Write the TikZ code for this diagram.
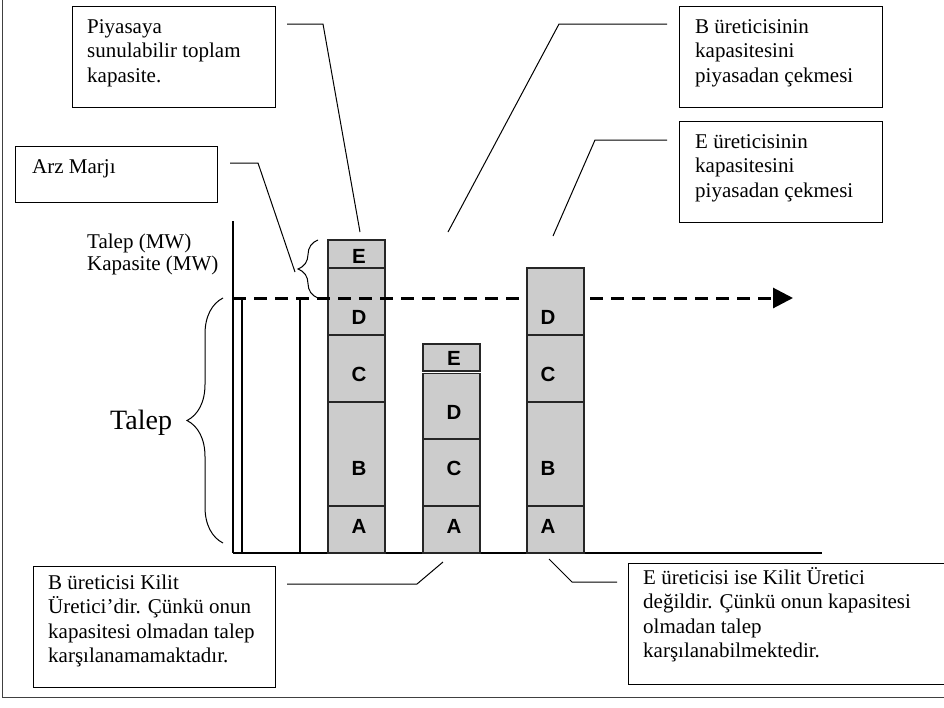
\documentclass[tikz,border=0pt]{standalone}
\usepackage{fontspec}
\setmainfont{Liberation Serif}
\newfontfamily\barfont{Liberation Sans Bold}
\usetikzlibrary{arrows.meta,decorations.pathreplacing}
\begin{document}
\begin{tikzpicture}[x=1pt,y=-1pt,
  box/.style={draw, line width=1.3pt, anchor=north west, inner sep=0pt},
  txt/.style={anchor=north west, inner sep=0pt, align=left, font=\fontsize{21}{24.5}\selectfont},
  seg/.style={draw=black!85, line width=1.4pt, fill=black!20, minimum width=57pt, inner sep=0pt},
  lettr/.style={font=\barfont\fontsize{20.5}{20.5}\selectfont, inner sep=0pt},
  lead/.style={line width=1pt},
  brc/.style={decorate, line width=1pt},
]
\useasboundingbox (0,0) rectangle (944,707);
% frame
\draw[line width=1pt, black!75] (2,0) -- (2,697) -- (944,697);

% axes
\coordinate (axt) at (233,221);
\coordinate (ax0) at (233,553);
\coordinate (axr) at (822,553);
\draw[line width=1.3pt] (axt) -- (ax0);
\draw[line width=1.5pt] (ax0) -- (axr);
% demand column
\coordinate (dl0) at (242,553);
\coordinate (dl1) at (242,298);
\coordinate (dr0) at (300,553);
\coordinate (dr1) at (300,298);
\draw[line width=1.2pt] (dl0) -- (dl1);
\draw[line width=1.2pt] (dr0) -- (dr1);

% bar 1
\node[seg, minimum height=28pt]  (b1e) at (356.5,254) {};
\node[seg, minimum height=67pt]  (b1d) at (356.5,301.5) {};
\node[seg, minimum height=67pt]  (b1c) at (356.5,368.5) {};
\node[seg, minimum height=104pt] (b1b) at (356.5,454) {};
\node[seg, minimum height=47pt]  (b1a) at (356.5,529.5) {};
% bar 2
\node[seg, minimum height=27pt]   (b2e) at (451.5,357.5) {};
\node[seg, minimum height=65.5pt] (b2d) at (451.5,406.25) {};
\node[seg, minimum height=67pt]   (b2c) at (451.5,472.5) {};
\node[seg, minimum height=47pt]   (b2a) at (451.5,529.5) {};

% dashed demand line
\coordinate (dst) at (233,298);
\coordinate (dend) at (793,298);
\draw[line width=3pt, dash pattern=on 13pt off 8pt, -{Triangle[length=20pt,width=20pt]}] (dst) -- (dend);

% bar 3
\node[seg, minimum height=67pt]  (b3d) at (555.5,301.5) {};
\node[seg, minimum height=67pt]  (b3c) at (555.5,368.5) {};
\node[seg, minimum height=104pt] (b3b) at (555.5,454) {};
\node[seg, minimum height=47pt]  (b3a) at (555.5,529.5) {};

% letters
\node[lettr] (l1e) at (359,256) {E};
\node[lettr] (l1d) at (359,317) {D};
\node[lettr] (l1c) at (359,374) {C};
\node[lettr] (l1b) at (359,468) {B};
\node[lettr] (l1a) at (359,526) {A};
\node[lettr] (l2e) at (454,358) {E};
\node[lettr] (l2d) at (454,412) {D};
\node[lettr] (l2c) at (454,468) {C};
\node[lettr] (l2a) at (454,526) {A};
\node[lettr] (l3d) at (548,317) {D};
\node[lettr] (l3c) at (548,374) {C};
\node[lettr] (l3b) at (548,468) {B};
\node[lettr] (l3a) at (548,526) {A};

% braces
\coordinate (bb0) at (223,543);
\coordinate (bb1) at (223,298);
\draw[brc, decoration={brace, amplitude=36pt}] (bb0) -- (bb1);
\coordinate (sb0) at (318,298);
\coordinate (sb1) at (318,240);
\draw[brc, decoration={brace, amplitude=20pt}] (sb0) -- (sb1);

% axis labels
\node[anchor=north west, inner sep=0pt, align=left, font=\fontsize{21}{22}\selectfont] (ylab) at (87,232.6) {\strut Talep (MW)\\Kapasite (MW)};
\node[anchor=base west, inner sep=0pt, font=\fontsize{28}{32}\selectfont] (talep) at (110,429) {Talep};

% boxes
\node[box, minimum width=203pt, minimum height=101pt] (pbox) at (72,6) {};
\node[txt] (ptxt) at (87,15.85) {\strut Piyasaya\\sunulabilir toplam\\kapasite.};
\node[box, minimum width=202pt, minimum height=56pt] (abox) at (15,146) {};
\node[txt] (atxt) at (32,155.85) {\strut Arz Marjı};
\node[box, minimum width=203pt, minimum height=101pt] (btop) at (679,6) {};
\node[txt] (btxt) at (695,15.85) {\strut B üreticisinin\\kapasitesini\\piyasadan çekmesi};
\node[box, minimum width=203pt, minimum height=101pt] (etop) at (679,121) {};
\node[txt] (etxt) at (695,130.85) {\strut E üreticisinin\\kapasitesini\\piyasadan çekmesi};
\node[box, minimum width=242pt, minimum height=121pt] (bbot) at (33,566) {};
\node[txt] (bbtxt) at (48,571.85) {\strut B üreticisi Kilit\\Üretici’dir. Çünkü onun\\kapasitesi olmadan talep\\karşılanamamaktadır.};
\node[box, minimum width=330pt, minimum height=121pt] (ebot) at (628,563) {};
\node[txt] (ebtxt) at (643,566.85) {\strut E üreticisi ise Kilit Üretici\\değildir. Çünkü onun kapasitesi\\olmadan talep\\karşılanabilmektedir.};

% leaders
\coordinate (pl0) at (287,24);  \coordinate (pl1) at (323,24);  \coordinate (pl2) at (360,232);
\draw[lead] (pl0) -- (pl1) -- (pl2);
\coordinate (al0) at (230,163); \coordinate (al1) at (258,163); \coordinate (al2) at (295,272);
\draw[lead] (al0) -- (al1) -- (al2);
\coordinate (bl0) at (667,24);  \coordinate (bl1) at (559,24);  \coordinate (bl2) at (448,232);
\draw[lead] (bl0) -- (bl1) -- (bl2);
\coordinate (el0) at (667,140); \coordinate (el1) at (595,140); \coordinate (el2) at (553,236);
\draw[lead] (el0) -- (el1) -- (el2);
\coordinate (kl0) at (287,584); \coordinate (kl1) at (417,584); \coordinate (kl2) at (443,562);
\draw[lead] (kl0) -- (kl1) -- (kl2);
\coordinate (nl0) at (617,582); \coordinate (nl1) at (572,582); \coordinate (nl2) at (549,559);
\draw[lead] (nl0) -- (nl1) -- (nl2);
\end{tikzpicture}
\end{document}
